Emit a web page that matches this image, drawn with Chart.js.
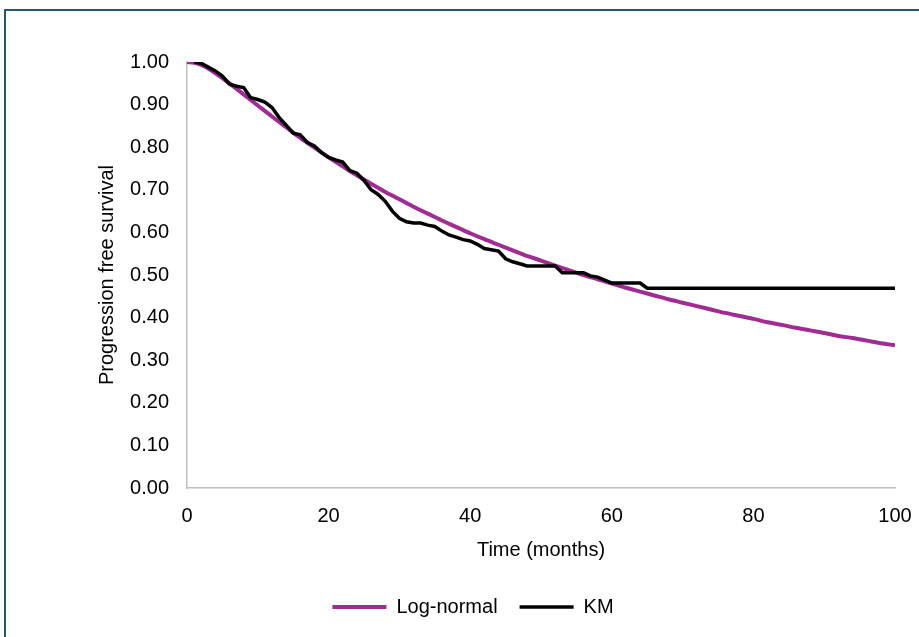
<!DOCTYPE html>
<html>
<head>
<meta charset="utf-8">
<script src="https://cdn.jsdelivr.net/npm/chart.js@4"></script>
<style>
html,body{margin:0;padding:0;background:#fff;overflow:hidden;}
#wrap{position:relative;width:919px;height:637px;}
#frame{position:absolute;left:4px;top:9px;width:1000px;height:1000px;border-top:2px solid #1f5a6d;border-left:2px solid #1f5a6d;pointer-events:none;}
</style>
</head>
<body>
<div id="wrap">
<canvas id="c" width="919" height="637"></canvas>
<div id="frame"></div>
</div>
<script>
// Kaplan-Meier estimate
const kmTime = [1,2,3,4,5,6,7,8,9,10,11,12,13,14,15,16,17,18,19,20,21,22,23,24,25,26,27,28,29,30,31,32,33,34,35,36,37,38,39,40,41,42,44,45,46,47.5,48,52,53,56,57,58,59,60,64,65,100];
const kmSurv = [1.000,0.997,0.988,0.979,0.967,0.948,0.943,0.940,0.916,0.912,0.906,0.893,0.870,0.852,0.833,0.829,0.811,0.803,0.787,0.776,0.770,0.765,0.745,0.739,0.722,0.700,0.689,0.673,0.650,0.633,0.625,0.622,0.622,0.617,0.614,0.603,0.594,0.589,0.583,0.580,0.572,0.562,0.556,0.538,0.531,0.524,0.521,0.521,0.505,0.505,0.498,0.495,0.488,0.481,0.481,0.469,0.469];

// Log-normal fitted curve
const lnTime = [0,1,2,3,4,6,8,10,12,14,16,18,20,22,24,26,28,30,32,34,36,38,40,42,44,46,48,50,52,54,56,58,60,62,64,66,68,70,72,74,76,78,80,82,84,86,88,90,92,94,96,98,100];
const lnSurv = [1.000,0.998,0.993,0.985,0.974,0.950,0.924,0.898,0.872,0.847,0.822,0.799,0.776,0.755,0.734,0.714,0.695,0.678,0.660,0.644,0.628,0.613,0.598,0.584,0.571,0.558,0.545,0.534,0.522,0.511,0.500,0.490,0.480,0.470,0.461,0.452,0.443,0.435,0.427,0.419,0.411,0.404,0.397,0.389,0.383,0.376,0.370,0.364,0.357,0.352,0.346,0.340,0.335];

const xTicks = [0,20,40,60,80,100];
const yTicks = [0,0.1,0.2,0.3,0.4,0.5,0.6,0.7,0.8,0.9,1.0];

const seriesNames = ['Log-normal','KM'];

const FONT = 'Liberation Sans';

new Chart(document.getElementById('c'), {
  type: 'line',
  data: {
    datasets: [
      {
        label: seriesNames[0],
        data: lnTime.map((t,i)=>({x:t,y:lnSurv[i]})),
        borderColor: '#a02b93',
        backgroundColor: '#a02b93',
        borderWidth: 4,
        pointRadius: 0,
        tension: 0.3,
        order: 2
      },
      {
        label: seriesNames[1],
        data: kmTime.map((t,i)=>({x:t,y:kmSurv[i]})),
        borderColor: '#000000',
        backgroundColor: '#000000',
        borderWidth: 3.5,
        pointRadius: 0,
        tension: 0,
        order: 1
      }
    ]
  },
  options: {
    responsive: false,
    animation: false,
    layout: { padding: { left: 51, right: 24, top: 62, bottom: 10 } },
    plugins: {
      tooltip: { enabled: false },
      legend: {
        position: 'bottom',
        align: 'center',
        labels: {
          usePointStyle: true,
          pointStyle: 'line',
          pointStyleWidth: 54,
          boxHeight: 20,
          padding: 22,
          color: '#000',
          font: { family: FONT, size: 20 },
          sort: (a,b) => a.datasetIndex - b.datasetIndex
        }
      }
    },
    scales: {
      x: {
        type: 'linear',
        min: 0, max: 100,
        afterBuildTicks: s => { s.ticks = xTicks.map(v=>({value:v})); },
        afterFit: s => { s.height = 87; s.paddingLeft = 0; s.paddingRight = 0; },
        grid: { display: false, drawTicks: false },
        border: { display: true, color: '#bfbfbf', width: 1.5 },
        ticks: { padding: 16, color: '#000', font: { family: FONT, size: 20 }, maxRotation: 0 },
        title: { display: true, text: 'Time (months)', color: '#000', font: { family: FONT, size: 20 }, padding: { top: 0, bottom: 13 } }
      },
      y: {
        type: 'linear',
        min: 0, max: 1,
        afterBuildTicks: s => { s.ticks = yTicks.map(v=>({value:v})); },
        afterFit: s => { s.width = 136; },
        grid: { display: false, drawTicks: false },
        border: { display: true, color: '#bfbfbf', width: 1.5 },
        ticks: { padding: 18, color: '#000', font: { family: FONT, size: 20 }, callback: v => Number(v).toFixed(2) },
        title: { display: true, text: 'Progression free survival', color: '#000', font: { family: FONT, size: 20 }, padding: { top: 44, bottom: 0 } }
      }
    }
  }
});
</script>
</body>
</html>
